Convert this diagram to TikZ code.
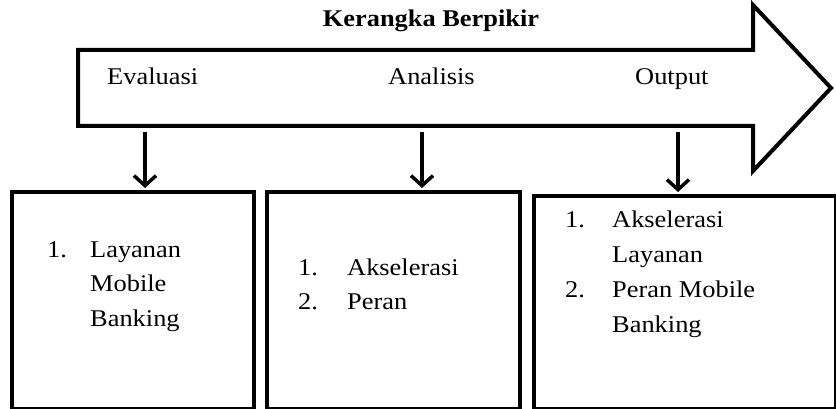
\documentclass[tikz,border=0pt]{standalone}
\usepackage{fontspec}
\setmainfont[FakeStretch=1.1]{Liberation Serif}
\usetikzlibrary{arrows.meta, positioning}

\begin{document}
\begin{tikzpicture}[x=1pt, y=-1pt,
    every node/.style={font=\fontsize{24}{35}\selectfont, inner sep=0pt},
    headtxt/.style={anchor=base west},
    listtxt/.style={anchor=base west},
    box/.style={rectangle, draw, line width=4pt, anchor=north west},
    darr/.style={-{Straight Barb[length=10pt, width=22pt]}, line width=3.5pt, shorten >=2pt},
]
    \useasboundingbox (0,0) rectangle (836,409);

    % big arrow
    \draw[line width=4pt] (78,50) -- (753,50) -- (753,5) -- (831,88) -- (753,171) -- (753,126) -- (78,126) -- cycle;
    \node[font=\fontsize{24}{28}\selectfont\bfseries, anchor=base] (title) at (431,27) {Kerangka Berpikir};
    \node[headtxt] (eval) at (107,85) {Evaluasi};
    \node[headtxt] (anal) at (388,85) {Analisis};
    \node[headtxt] (outp) at (635,85) {Output};

    % boxes
    \node[box, minimum width=242pt, minimum height=217pt] (evalbox) at (10,190) {};
    \node[box, minimum width=253pt, minimum height=217pt] (analbox) at (265,190) {};
    \node[box, minimum width=302pt, minimum height=213pt] (outpbox) at (532,194) {};

    \node[listtxt] (evallist) at (47,257) {\begin{tabular}[t]{@{}p{43pt}@{}l@{}}1. & Layanan\\ & Mobile\\ & Banking\end{tabular}};
    \node[listtxt] (anallist) at (298,275) {\begin{tabular}[t]{@{}p{49pt}@{}l@{}}1. & Akselerasi\\ 2. & Peran\end{tabular}};
    \node[listtxt] (outplist) at (565,228) {\begin{tabular}[t]{@{}p{47pt}@{}l@{}}1. & Akselerasi\\ & Layanan\\ 2. & Peran Mobile\\ & Banking\end{tabular}};

    % down arrows
    \coordinate (e) at (145,132);
    \coordinate (a) at (422,132);
    \coordinate (o) at (678,132);
    \draw[darr] (e) -- (e |- evalbox.north);
    \draw[darr] (a) -- (a |- analbox.north);
    \draw[darr] (o) -- (o |- outpbox.north);
\end{tikzpicture}
\end{document}
